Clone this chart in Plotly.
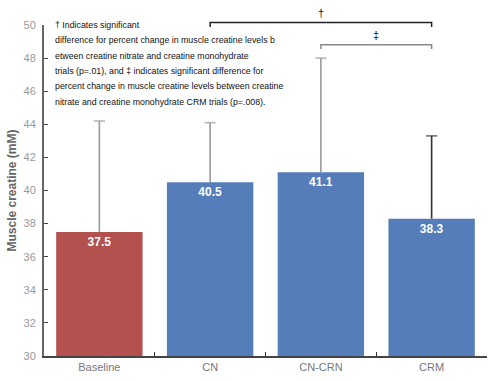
import plotly.graph_objects as go

categories = ["Baseline", "CN", "CN-CRN", "CRM"]
means = [37.5, 40.5, 41.1, 38.3]
upper = [44.2, 44.1, 48.0, 43.3]
bar_colors = ["#B2514E", "#547DB9", "#547DB9", "#547DB9"]
err_colors = ["#9a9a9a", "#9a9a9a", "#9a9a9a", "#333333"]
y_ticks = [30, 32, 34, 36, 38, 40, 42, 44, 46, 48, 50]
y_min, y_max = 30, 50

note_lines = [
    "† Indicates significant",
    "difference for percent change in muscle creatine levels b",
    "etween creatine nitrate and creatine monohydrate",
    "trials (p=.01), and ‡ indicates significant difference for",
    "percent change in muscle creatine levels between creatine",
    "nitrate and creatine monohydrate CRM trials (p=.008).",
]
# significance brackets: (from category, to category, level, tick end, symbol, colour)
brackets = [("CN", "CRM", 50.15, 49.88, "†", "#222222"),
            ("CN-CRN", "CRM", 48.8, 48.55, "‡", "#888888")]

fig = go.Figure()
for c, m, u, bc, ec in zip(categories, means, upper, bar_colors, err_colors):
    fig.add_trace(go.Bar(
        x=[c], y=[m], width=0.78,
        marker=dict(color=bc, line=dict(color=bc, width=0)),
        text=[f"{m:.1f}"], textposition="inside", insidetextanchor="end",
        textfont=dict(color="white", size=12, family="Liberation Sans, Arial", weight="bold"),
        showlegend=False, cliponaxis=False,
    ))
    # upper-only error bar (line from mean to upper value, cap at the top)
    fig.add_trace(go.Scatter(
        x=[c, c], y=[m, u], mode="lines+markers",
        line=dict(color=ec, width=1.6),
        marker=dict(symbol="line-ew", size=[0, 8], color=ec, line=dict(color=ec, width=1.6)),
        showlegend=False, hoverinfo="skip", cliponaxis=False,
    ))

def to_paper(v):
    return (v - y_min) / (y_max - y_min)

idx = {c: i for i, c in enumerate(categories)}
for a, b, top, tick, sym, col in brackets:
    xa, xb = idx[a], idx[b]
    fig.add_shape(type="path", xref="x", yref="paper",
                  path=f"M {xa},{to_paper(tick)} L {xa},{to_paper(top)} L {xb},{to_paper(top)} L {xb},{to_paper(tick)}",
                  line=dict(color=col, width=1.5))
    fig.add_annotation(x=(xa + xb) / 2, y=to_paper(top), xref="x", yref="paper",
                       text=sym, showarrow=False, yanchor="bottom", yshift=2,
                       font=dict(size=11, color="#111", family="Liberation Sans, Arial"))

plot_h = 331.0
line_gap = 15.3
for i, line in enumerate(note_lines):
    fig.add_annotation(x=-0.42, y=1 - i * line_gap / plot_h, xref="x", yref="paper",
                       text=line, showarrow=False,
                       xanchor="left", yanchor="middle", align="left",
                       font=dict(size=8.8, color="#111", family="Liberation Sans, Arial"))

fig.add_annotation(x=-33 / 443, y=0.5, xref="paper", yref="paper",
                   text="<b>Muscle creatine (mM)</b>", textangle=-90, showarrow=False,
                   xanchor="center", yanchor="middle",
                   font=dict(size=12, color="#666", family="Liberation Sans, Arial"))

fig.update_layout(
    width=490, height=381,
    margin=dict(l=44, r=3, t=25, b=25),
    plot_bgcolor="white", paper_bgcolor="white",
    barmode="overlay",
    xaxis=dict(type="category", categoryorder="array", categoryarray=categories,
               range=[-0.5, 3.5], tickson="boundaries", ticks="inside", ticklen=4,
               tickcolor="#333", showline=True, linecolor="#444", linewidth=2,
               showgrid=False, zeroline=False,
               tickfont=dict(size=11, color="#777", family="Liberation Sans, Arial")),
    yaxis=dict(range=[y_min, y_max], tickvals=y_ticks, ticks="inside", ticklen=4,
               tickcolor="#444", showline=True, linecolor="#666", linewidth=2,
               showgrid=False, zeroline=False, ticklabelstandoff=4,
               tickfont=dict(size=11, color="#999", family="Liberation Sans, Arial")),
)

fig.write_html("out.html", config={"displayModeBar": False},
               post_script="document.body.style.margin='0';")
